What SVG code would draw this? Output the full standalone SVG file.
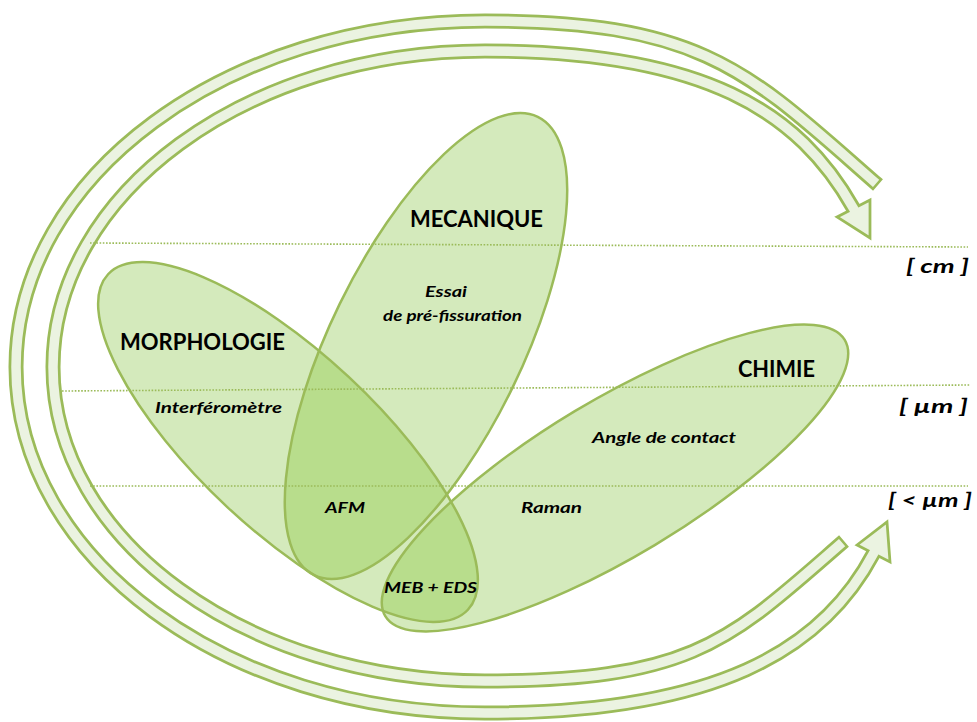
<svg xmlns="http://www.w3.org/2000/svg" width="977" height="722" viewBox="0 0 977 722">
<style>
.bandO{fill:none;stroke:#9bbb59;stroke-width:15;stroke-linecap:butt}
.bandI{fill:none;stroke:#ebf3e1;stroke-width:9.5;stroke-linecap:butt}
.head{fill:#ebf3e1;stroke:#9bbb59;stroke-width:2.75;stroke-linejoin:miter}
.efill{fill:#d4eabc}
.ov{fill:#b8dd8c}
.estroke{fill:none;stroke:#9bbb59;stroke-width:2.5}
.dot{stroke:#9bbb59;stroke-width:1.6;stroke-dasharray:1.6 1.6;fill:none}
.h{font-family:Lato,"Liberation Sans",sans-serif;font-weight:bold;font-size:22px;fill:#000}
.t{font-family:Lato,"Liberation Sans",sans-serif;font-weight:bold;font-style:italic;font-size:16px;fill:#000}
</style>
<defs>
<ellipse id="eMorph" cx="0" cy="0" rx="246" ry="89" transform="translate(288,442) rotate(43)"/>
<ellipse id="eMec" cx="0" cy="0" rx="255" ry="96" transform="translate(426,346) rotate(-64)"/>
<ellipse id="eChim" cx="0" cy="0" rx="268" ry="78" transform="translate(615,478) rotate(-31)"/>
<clipPath id="cMorph"><use href="#eMorph"/></clipPath>
<clipPath id="cMec"><use href="#eMec"/></clipPath>
</defs>
<g id="connectors">
<g id="arrow-outer">
<path class="bandO" d="M 878,185 C 750,73 705,21 485,21 C 226,21 16,176 16,367 C 16,558 226,713 485,713 C 715,713 822,651 873.5,553.5"/>
<polygon class="head" points="857,545 887,522 890,562"/>
<path class="bandI" d="M 876.1,183.4 C 750,73 705,21 485,21 C 226,21 16,176 16,367 C 16,558 226,713 485,713 C 715,713 822,651 873.5,553.5 L 875,550.5"/>
</g>
<g id="arrow-inner">
<path class="bandO" d="M 844,541 C 731,639 695,681 485,681 C 246,681 53,540 53,367 C 53,194 246,51 485,51 C 705,51 799,112 853.5,208.5"/>
<polygon class="head" points="837,217 870,200 870,238"/>
<path class="bandI" d="M 842.1,542.6 C 731,639 695,681 485,681 C 246,681 53,540 53,367 C 53,194 246,51 485,51 C 705,51 799,112 853.5,208.5 L 855,211.2"/>
</g>
</g>
<g id="fills">
<use href="#eMorph" class="efill"/>
<use href="#eMec" class="efill"/>
<use href="#eChim" class="efill"/>
<g clip-path="url(#cMorph)"><use href="#eMec" class="ov"/><use href="#eChim" class="ov"/></g>
<g clip-path="url(#cMec)"><use href="#eChim" class="ov"/></g>
</g>
<g id="morphologie">
<use href="#eMorph" class="estroke"/>
<text class="h" x="120" y="350" textLength="165" lengthAdjust="spacingAndGlyphs">MORPHOLOGIE</text>
<text class="t" x="155" y="413" textLength="127" lengthAdjust="spacingAndGlyphs">Interféromètre</text>
</g>
<g id="mecanique">
<use href="#eMec" class="estroke"/>
<text class="h" x="410" y="227" textLength="133" lengthAdjust="spacingAndGlyphs">MECANIQUE</text>
<text class="t" x="425" y="297" textLength="42" lengthAdjust="spacingAndGlyphs">Essai</text>
<text class="t" x="383" y="321" textLength="139" lengthAdjust="spacingAndGlyphs">de pré-fissuration</text>
</g>
<g id="chimie">
<use href="#eChim" class="estroke"/>
<text class="h" x="738" y="377" textLength="77" lengthAdjust="spacingAndGlyphs">CHIMIE</text>
<text class="t" x="592" y="443" textLength="144" lengthAdjust="spacingAndGlyphs">Angle de contact</text>
<text class="t" x="521" y="513" textLength="61" lengthAdjust="spacingAndGlyphs">Raman</text>
</g>
<g id="afm"><text class="t" x="325" y="513" textLength="40" lengthAdjust="spacingAndGlyphs">AFM</text></g>
<g id="meb-eds"><text class="t" x="384" y="593" textLength="93" lengthAdjust="spacingAndGlyphs">MEB + EDS</text></g>
<g id="scales">
<line class="dot" x1="90" y1="243" x2="968" y2="247"/>
<line class="dot" x1="62" y1="391" x2="970" y2="385"/>
<line class="dot" x1="90" y1="486" x2="968" y2="486"/>
<text class="t" x="906" y="273" textLength="63" lengthAdjust="spacingAndGlyphs" style="font-size:19px">[ cm ]</text>
<text class="t" x="899" y="413" textLength="69" lengthAdjust="spacingAndGlyphs" style="font-size:19px">[ µm ]</text>
<text class="t" x="888" y="507" textLength="84" lengthAdjust="spacingAndGlyphs" style="font-size:19px">[ &lt; µm ]</text>
</g>
</svg>
